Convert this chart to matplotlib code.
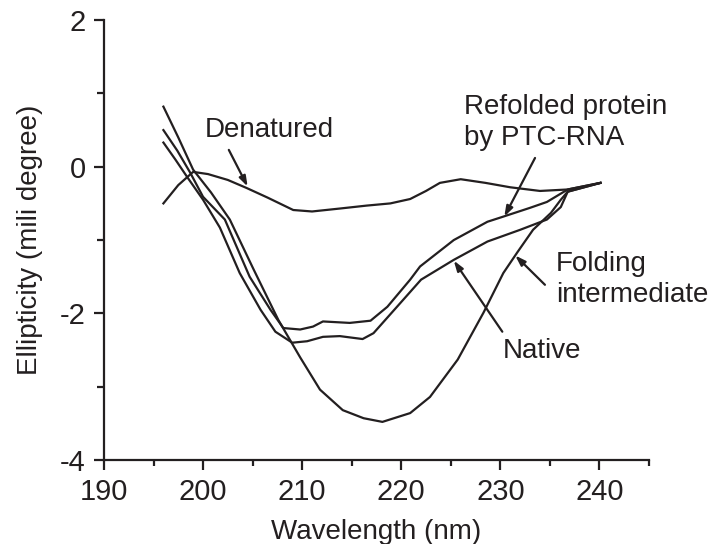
import matplotlib
matplotlib.use("Agg")
import matplotlib.pyplot as plt

plt.rcParams['font.family'] = ['Liberation Sans', 'DejaVu Sans']
plt.rcParams['axes.unicode_minus'] = False

# Denatured
den_x = [196.0, 197.5, 199.0, 200.5, 202.5, 204.4, 206.5, 209.1, 211.0, 213.8, 216.5, 218.9, 220.9, 222.5, 223.9, 226.0, 228.5, 231.0, 234.0, 236.8, 240.1]
den_y = [-0.50, -0.25, -0.07, -0.10, -0.18, -0.29, -0.42, -0.59, -0.61, -0.57, -0.53, -0.50, -0.44, -0.33, -0.22, -0.17, -0.22, -0.28, -0.33, -0.31, -0.22]

# Folding intermediate
fi_x = [196.0, 197.5, 199.0, 200.8, 202.7, 205.1, 207.6, 209.8, 211.8, 214.1, 216.2, 218.1, 220.9, 222.9, 225.7, 228.3, 230.3, 231.7, 233.3, 235.1, 236.1, 236.8, 240.1]
fi_y = [0.82, 0.40, -0.04, -0.35, -0.72, -1.40, -2.09, -2.60, -3.04, -3.32, -3.43, -3.48, -3.36, -3.14, -2.63, -1.99, -1.45, -1.17, -0.86, -0.63, -0.45, -0.34, -0.22]

# Refolded protein by PTC-RNA
rf_x = [196.0, 197.4, 198.7, 200.0, 202.2, 204.7, 206.8, 208.1, 209.8, 211.1, 212.1, 214.8, 216.9, 218.6, 220.9, 221.9, 225.3, 228.7, 230.3, 233.0, 234.7, 236.8, 240.1]
rf_y = [0.50, 0.22, -0.08, -0.41, -0.72, -1.50, -1.95, -2.20, -2.22, -2.18, -2.11, -2.13, -2.10, -1.91, -1.54, -1.36, -1.00, -0.75, -0.68, -0.56, -0.48, -0.31, -0.22]

# Native
nt_x = [196.0, 197.2, 198.4, 200.0, 201.7, 203.7, 205.8, 207.3, 209.0, 210.5, 212.1, 213.8, 216.1, 217.2, 219.9, 222.0, 225.3, 228.7, 232.0, 234.7, 236.1, 236.8, 240.1]
nt_y = [0.33, 0.10, -0.14, -0.45, -0.83, -1.45, -1.95, -2.25, -2.40, -2.38, -2.32, -2.31, -2.35, -2.27, -1.86, -1.54, -1.27, -1.02, -0.86, -0.72, -0.55, -0.34, -0.22]

x_ticks = [190, 200, 210, 220, 230, 240]
y_ticks = [-4, -2, 0, 2]

ink = '#231f20'

fig = plt.figure(figsize=(7.12, 5.44), dpi=100)
ax = fig.add_axes([0.146, 0.1544, 0.7655, 0.8086])

for xs, ys in [(den_x, den_y), (fi_x, fi_y), (rf_x, rf_y), (nt_x, nt_y)]:
    ax.plot(xs, ys, color=ink, lw=1.6, solid_joinstyle='round')

ax.set_xlim(190, 245)
ax.set_ylim(-4, 2)
ax.set_xticks(x_ticks)
ax.set_yticks(y_ticks)
ax.set_xticks([195, 205, 215, 225, 235, 245], minor=True)
ax.set_yticks([-3, -1, 1], minor=True)
for s in ['top', 'right']:
    ax.spines[s].set_visible(False)
for s in ['left', 'bottom']:
    ax.spines[s].set_linewidth(1.6)
    ax.spines[s].set_color(ink)
ax.tick_params(axis='both', which='major', direction='out', length=7, width=1.6,
               colors=ink, labelsize=21)
ax.tick_params(axis='x', which='major', pad=6)
ax.tick_params(axis='y', which='major', pad=6)
ax.tick_params(axis='y', which='minor', direction='out', length=5, width=1.6, colors=ink)
ax.tick_params(axis='x', which='minor', direction='out', length=4, width=1.6, colors=ink)
ax.set_xlabel('Wavelength (nm)', fontsize=20, color=ink, labelpad=9)
ax.set_ylabel('Ellipticity (mili degree)', fontsize=20, color=ink, labelpad=12)

arrow = dict(arrowstyle='-|>,head_length=0.6,head_width=0.2', color=ink, lw=1.6,
             shrinkA=0, shrinkB=0)

ax.text(200.2, 0.41, 'Denatured', fontsize=20, color=ink, ha='left', va='baseline')
ax.annotate('', xy=(204.5, -0.27), xytext=(202.6, 0.23), arrowprops=arrow)

ax.text(226.3, 0.30, 'Refolded protein\nby PTC-RNA', fontsize=20, color=ink,
        ha='left', va='baseline', linespacing=1.25)
ax.annotate('', xy=(230.4, -0.68), xytext=(233.5, 0.12), arrowprops=arrow)

ax.text(235.6, -1.84, 'Folding\nintermediate', fontsize=20, color=ink,
        ha='left', va='baseline', linespacing=1.25)
ax.annotate('', xy=(231.5, -1.21), xytext=(234.5, -1.61), arrowprops=arrow)

ax.text(230.2, -2.61, 'Native', fontsize=20, color=ink, ha='left', va='baseline')
ax.annotate('', xy=(225.3, -1.28), xytext=(230.2, -2.25), arrowprops=arrow)

fig.savefig('out.png', dpi=100)
